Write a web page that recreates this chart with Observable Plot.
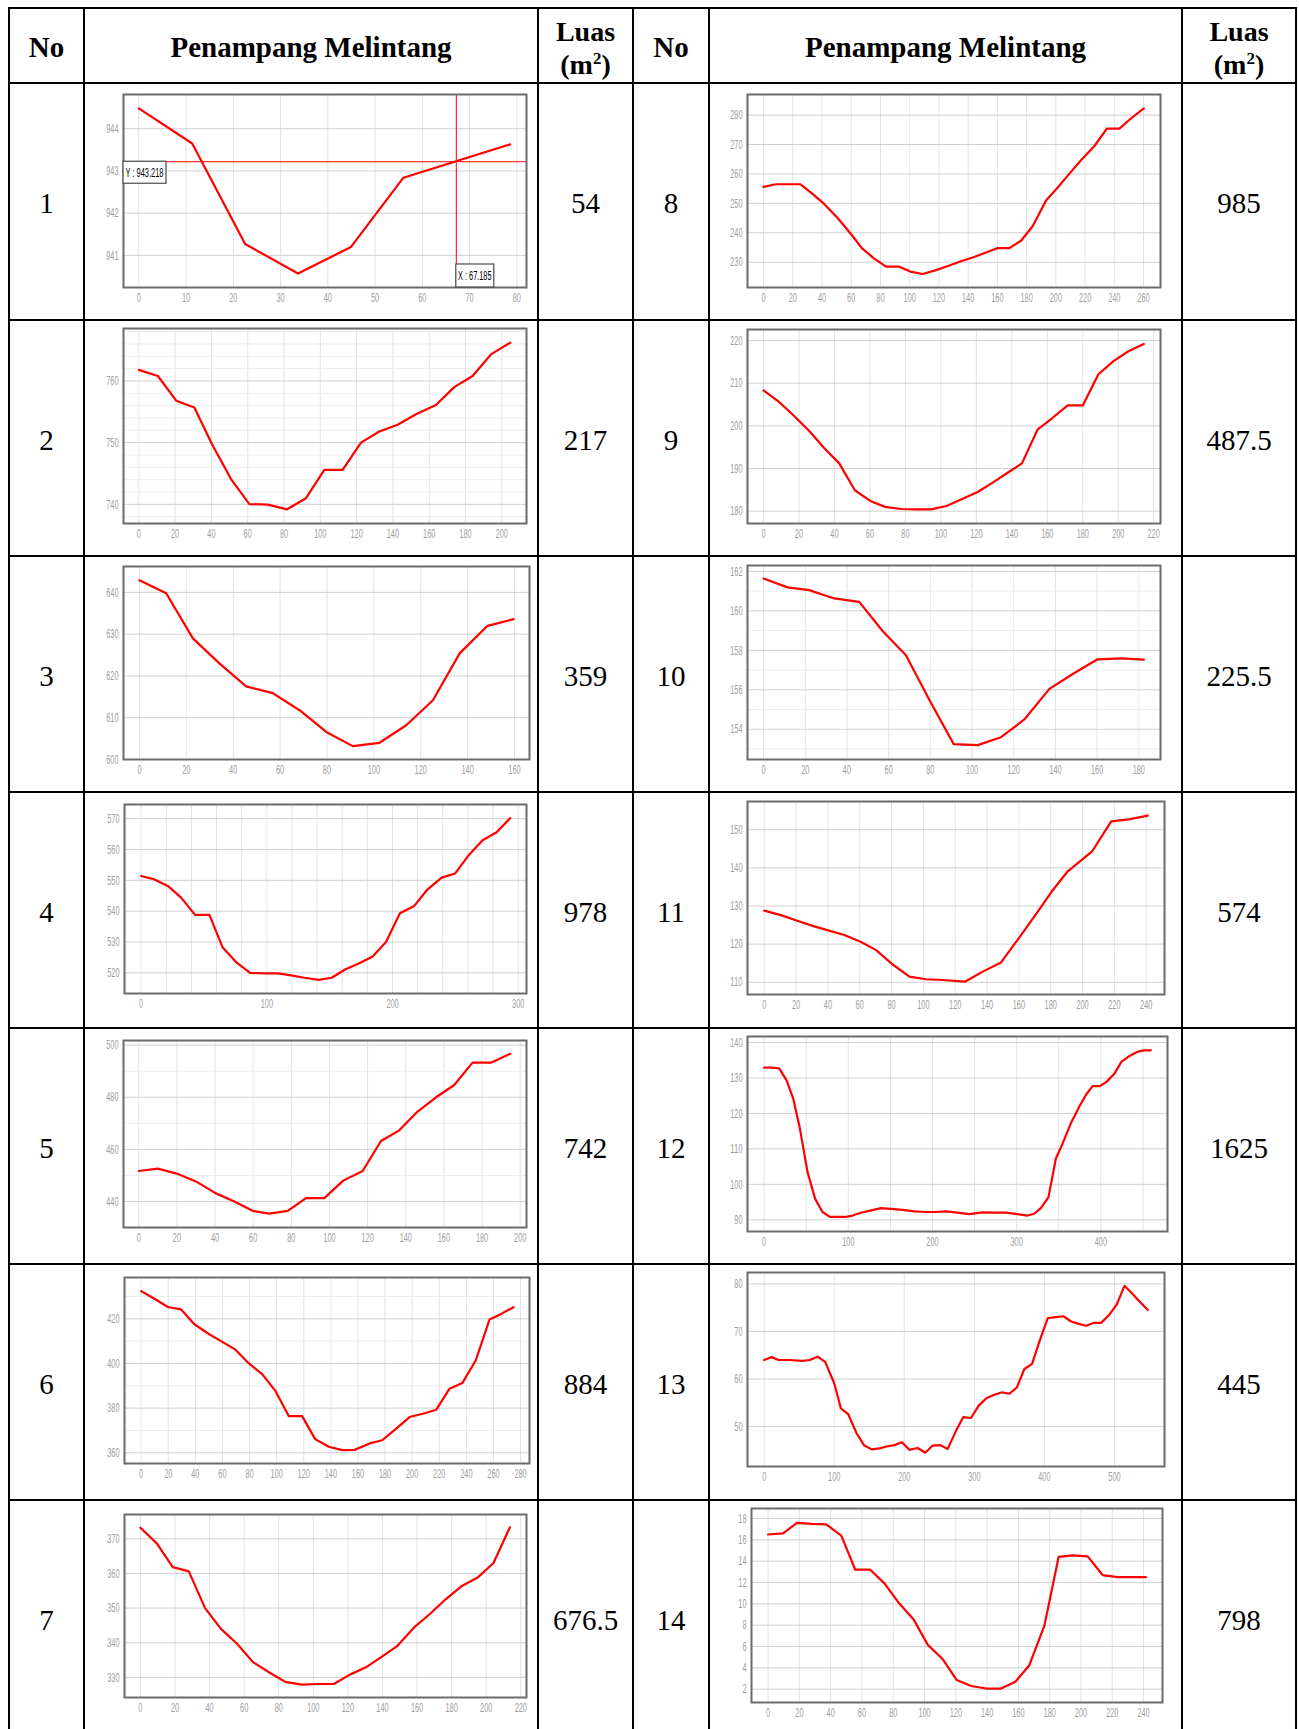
<!DOCTYPE html>
<html><head><meta charset="utf-8">
<script src="https://cdn.jsdelivr.net/npm/d3@7"></script>
<script src="https://cdn.jsdelivr.net/npm/@observablehq/plot@0.6"></script>
<style>
html,body{margin:0;padding:0;background:#fff;}
#page{position:relative;width:1299px;height:1729px;overflow:hidden;background:#fff;}
.hl{position:absolute;height:2px;background:#000;}
.vl{position:absolute;width:2px;background:#000;}
.cell{position:absolute;display:flex;align-items:center;justify-content:center;font-family:"Liberation Serif","Times New Roman",serif;font-size:29px;color:#000;text-align:center;box-sizing:border-box;padding-top:4px;}
.hd{font-weight:bold;}
.luas{line-height:33px;font-size:28px;}
.luas sup{font-size:17px;vertical-align:super;line-height:0;}
.chart{position:absolute;}
.chart svg{overflow:visible;}
</style></head><body><div id="page"></div>
<script>
// ---------- data ----------
const nomorKiri = [1, 2, 3, 4, 5, 6, 7];
const nomorKanan = [8, 9, 10, 11, 12, 13, 14];
const luasKiri = [54, 217, 359, 978, 742, 884, 676.5];
const luasKanan = [985, 487.5, 225.5, 574, 1625, 445, 798];

const jarak1 = [0, 11.3, 22.5, 33.7, 44.9, 56.0, 78.6];
const elev1 = [944.48, 943.65, 941.27, 940.57, 941.2, 942.84, 943.63];
const crossX1 = 67.185, crossY1 = 943.218;

const jarak2 = [0, 10.5, 20.6, 30.6, 40.4, 50.8, 60.9, 71.0, 81.7, 92.1, 102.2, 112.3, 122.4, 132.5, 142.6, 152.7, 163.7, 173.8, 183.9, 194.0, 204.6];
const elev2 = [761.8, 760.8, 756.8, 755.7, 749.7, 744.1, 740.05, 739.95, 739.2, 741.0, 745.6, 745.6, 750.0, 751.8, 752.9, 754.6, 756.1, 759.0, 760.8, 764.3, 766.2];

const jarak3 = [0, 11.4, 22.8, 34.1, 45.5, 56.9, 68.3, 79.7, 91.0, 102.4, 113.8, 125.2, 136.6, 148.5, 159.6];
const elev3 = [642.9, 639.8, 629.0, 623.0, 617.5, 615.9, 611.8, 606.6, 603.2, 604.0, 608.2, 614.2, 625.4, 632.0, 633.6];

const jarak4 = [0, 10.6, 21.2, 31.8, 42.9, 54.3, 64.9, 75.5, 86.7, 98.1, 108.7, 119.3, 129.9, 141.3, 151.6, 162.2, 173.6, 184.2, 194.8, 205.9, 217.3, 227.9, 239.1, 249.7, 261.1, 271.7, 282.8, 293.7];
const elev4 = [551.4, 550.3, 548.2, 544.4, 538.8, 538.8, 528.2, 523.5, 520.0, 519.8, 519.8, 519.2, 518.4, 517.7, 518.4, 521.1, 523.1, 525.3, 530.0, 539.3, 541.7, 547.1, 550.9, 552.2, 558.4, 563.0, 565.6, 570.2];

const jarak5 = [0, 10, 19.9, 30, 40.2, 50.1, 59.7, 68.5, 78.1, 87.7, 97.3, 107.2, 117.4, 127, 136.6, 146.2, 155.9, 165.4, 175.0, 184.6, 194.8];
const elev5 = [451.7, 452.6, 450.7, 447.7, 443.2, 440.0, 436.4, 435.3, 436.4, 441.3, 441.3, 448.0, 451.7, 463.2, 467.3, 474.5, 480.0, 484.7, 493.3, 493.3, 496.7];

const jarak6 = [0, 9.8, 19.7, 29.5, 39.4, 49.7, 59.5, 69.4, 79.5, 89.3, 99.2, 109.0, 118.8, 128.4, 138.5, 148.4, 157.5, 168.6, 177.9, 188.2, 198.1, 207.9, 217.8, 227.6, 237.0, 246.8, 257.1, 265.7, 274.8];
const elev6 = [432.4, 429.0, 425.3, 424.2, 417.5, 413.3, 409.8, 406.3, 400.0, 395.2, 387.6, 376.4, 376.4, 366.1, 362.7, 361.2, 361.3, 364.2, 365.6, 370.8, 376.0, 377.5, 379.3, 388.7, 391.2, 401.2, 419.7, 422.2, 425.2];

const jarak7 = [0, 9.6, 18.7, 28, 37.4, 46.6, 55.9, 65.1, 74.6, 83.8, 93.3, 102.5, 111.8, 121.2, 130.4, 139.7, 148.7, 158.4, 167.4, 176.7, 185.4, 195.0, 204.2, 213.7];
const elev7 = [373.2, 368.6, 361.8, 360.6, 350.0, 344.0, 339.7, 334.4, 331.4, 328.7, 327.9, 328.1, 328.1, 330.8, 332.9, 336.0, 339.1, 344.5, 348.3, 352.6, 356.2, 358.8, 363.0, 373.3];

const jarak8 = [0, 8.4, 16.9, 25.1, 33.1, 41.5, 50.7, 59.8, 67.3, 75.3, 83.8, 92.4, 100.4, 108.9, 118, 126.7, 135.1, 143.1, 151.8, 160.2, 168.2, 176.2, 184.2, 193.3, 201.3, 209.3, 217.8, 226.4, 234.9, 243.5, 252, 260.2];
const elev8 = [255.6, 256.5, 256.5, 256.5, 253.4, 249.8, 245.0, 239.6, 234.8, 231.4, 228.5, 228.5, 226.8, 226.0, 227.3, 228.8, 230.3, 231.6, 233.2, 234.8, 234.8, 237.3, 242.3, 251.0, 255.4, 260.1, 265.0, 269.5, 275.4, 275.4, 279.1, 282.3];

const jarak9 = [0, 8.8, 17.3, 25.8, 34.2, 42.7, 51.5, 60.2, 68.6, 77.5, 85.9, 94.4, 103.2, 111.7, 120.7, 129.2, 137.6, 145.7, 154.6, 163.0, 171.5, 180.0, 188.8, 197.3, 205.7, 214.4];
const elev9 = [208.3, 205.6, 202.3, 198.8, 194.8, 191.2, 184.9, 182.4, 181.0, 180.5, 180.4, 180.4, 181.2, 182.8, 184.5, 186.7, 189.0, 191.2, 199.2, 201.9, 204.8, 204.8, 212.1, 215.2, 217.5, 219.2];

const jarak10 = [0, 11.5, 21.9, 33.9, 45.9, 57.1, 68.3, 79.5, 91.2, 102.7, 113.9, 125.1, 137.1, 148.3, 160.0, 171.5, 182.4];
const elev10 = [161.64, 161.19, 161.05, 160.63, 160.46, 158.98, 157.75, 155.5, 153.25, 153.2, 153.6, 154.5, 156.05, 156.8, 157.54, 157.59, 157.53];

const jarak11 = [0, 10.5, 20.3, 30.4, 40.2, 50.3, 60.2, 70.2, 80.3, 91.2, 101.7, 112.1, 126.4, 137.3, 148.8, 159.3, 169.8, 180.3, 190.7, 206.0, 218.0, 229.1, 241.0];
const elev11 = [128.8, 127.6, 126.2, 124.8, 123.6, 122.4, 120.7, 118.5, 114.8, 111.5, 110.8, 110.6, 110.2, 112.8, 115.2, 121.2, 127.3, 133.6, 139.1, 144.3, 152.2, 152.7, 153.7];

const jarak12 = [0, 9.1, 17.8, 26.5, 34.5, 42.4, 51.5, 60.6, 69.3, 78, 87.1, 96.2, 105, 114.9, 124.8, 138.6, 150.5, 164.4, 178.2, 192.1, 202, 215.8, 229.7, 243.6, 259.4, 273.3, 287.1, 301, 312.9, 320.8, 328.7, 337.8, 346.5, 354.5, 364.4, 374.3, 382.2, 390.1, 398.8, 406.7, 415.8, 424.6, 434.5, 443.6, 451.5, 459.4];
const elev12 = [132.9, 132.9, 132.7, 129.4, 124.2, 115.8, 103.5, 95.9, 92.2, 90.8, 90.8, 90.8, 91.2, 92.0, 92.5, 93.3, 93.1, 92.8, 92.4, 92.2, 92.2, 92.4, 92.0, 91.6, 92.1, 92.0, 92.0, 91.6, 91.2, 91.7, 93.3, 96.4, 107.2, 111.5, 117.2, 121.9, 125.2, 127.7, 127.7, 128.9, 131.1, 134.6, 136.3, 137.4, 137.8, 137.8];

const jarak13 = [0, 10.5, 20.5, 35.7, 54.8, 65.2, 76.2, 87.1, 100, 109.5, 120, 131.9, 142.9, 153.8, 164.3, 174.8, 185.7, 196.7, 207.1, 219, 230, 240.5, 251.4, 261.9, 273.8, 284.3, 295.2, 306.2, 317.6, 328.6, 339.5, 350, 360.5, 371.4, 382.4, 392.9, 404.8, 415.7, 427.1, 438.1, 449, 459.5, 470, 481, 491.9, 503.3, 514.3, 525.2, 537.1, 547.6];
const elev13 = [64.0, 64.6, 64.0, 64.0, 63.8, 64.0, 64.7, 63.6, 59.1, 53.8, 52.6, 48.6, 46.0, 45.2, 45.4, 45.8, 46.1, 46.7, 45.1, 45.5, 44.5, 46.0, 46.1, 45.3, 49.1, 52.0, 51.8, 54.4, 56.0, 56.7, 57.2, 56.9, 58.2, 62.1, 63.2, 67.9, 72.8, 73.0, 73.2, 72.1, 71.6, 71.2, 71.8, 71.8, 73.4, 75.7, 79.6, 78.0, 76.1, 74.5];

const jarak14 = [0, 9.6, 18.5, 27.7, 37.2, 46.8, 55.7, 65.3, 74.5, 84, 93.2, 102.1, 111.7, 120.6, 129.8, 139.4, 148.9, 158.1, 167, 176.6, 185.7, 194.7, 204.3, 213.8, 223.4, 231.9, 241.5];
const elev14 = [16.5, 16.6, 17.6, 17.5, 17.45, 16.4, 13.2, 13.2, 11.9, 10.0, 8.5, 6.15, 4.8, 2.85, 2.3, 2.06, 2.06, 2.7, 4.25, 7.95, 14.4, 14.55, 14.45, 12.7, 12.5, 12.5, 12.5];

// tick labels
const tx1 = [0, 10, 20, 30, 40, 50, 60, 70, 80];
const ty1 = [941, 942, 943, 944];
const tx2 = [0, 20, 40, 60, 80, 100, 120, 140, 160, 180, 200];
const ty2 = [740, 750, 760];
const tyMinor2 = [738, 742, 744, 746, 748, 752, 754, 756, 758, 762, 764, 766, 768];
const tx3 = [0, 20, 40, 60, 80, 100, 120, 140, 160];
const ty3 = [600, 610, 620, 630, 640];
const tx4 = [0, 100, 200, 300];
const gx4 = [0, 20, 40, 60, 80, 100, 120, 140, 160, 180, 200, 220, 240, 260, 280, 300];
const ty4 = [520, 530, 540, 550, 560, 570];
const tx5 = [0, 20, 40, 60, 80, 100, 120, 140, 160, 180, 200];
const ty5 = [440, 460, 480, 500];
const tyMinor5 = [450, 470, 490];
const tx6 = [0, 20, 40, 60, 80, 100, 120, 140, 160, 180, 200, 220, 240, 260, 280];
const ty6 = [360, 380, 400, 420];
const tyMinor6 = [370, 390, 410, 430];
const tx7 = [0, 20, 40, 60, 80, 100, 120, 140, 160, 180, 200, 220];
const ty7 = [330, 340, 350, 360, 370];
const tx8 = [0, 20, 40, 60, 80, 100, 120, 140, 160, 180, 200, 220, 240, 260];
const ty8 = [230, 240, 250, 260, 270, 280];
const tx9 = [0, 20, 40, 60, 80, 100, 120, 140, 160, 180, 200, 220];
const ty9 = [180, 190, 200, 210, 220];
const tx10 = [0, 20, 40, 60, 80, 100, 120, 140, 160, 180];
const ty10 = [154, 156, 158, 160, 162];
const tyMinor10 = [153, 155, 157, 159, 161];
const tx11 = [0, 20, 40, 60, 80, 100, 120, 140, 160, 180, 200, 220, 240];
const ty11 = [110, 120, 130, 140, 150];
const tx12 = [0, 100, 200, 300, 400];
const gx12 = [0, 50, 100, 150, 200, 250, 300, 350, 400, 450];
const ty12 = [90, 100, 110, 120, 130, 140];
const tx13 = [0, 100, 200, 300, 400, 500];
const ty13 = [50, 60, 70, 80];
const tx14 = [0, 20, 40, 60, 80, 100, 120, 140, 160, 180, 200, 220, 240];
const ty14 = [2, 4, 6, 8, 10, 12, 14, 16, 18];

// ---------- chart settings ----------
const charts = [
  {x: jarak1, y: elev1, xTicks: tx1, yTicks: ty1, xDomain: [-3.24, 82.04], yDomain: [940.24, 944.81], box: [123, 94, 526, 287], cross: [crossX1, crossY1]},
  {x: jarak2, y: elev2, xTicks: tx2, yTicks: ty2, yMinor: tyMinor2, xDomain: [-8.44, 213.6], yDomain: [736.9, 768.5], box: [123, 328, 526, 523]},
  {x: jarak3, y: elev3, xTicks: tx3, yTicks: ty3, xDomain: [-6.8, 166.4], yDomain: [600, 646.2], box: [123, 566, 529, 759]},
  {x: jarak4, y: elev4, xTicks: tx4, xGrid: gx4, yTicks: ty4, xDomain: [-13.25, 306.6], yDomain: [513.3, 574.6], box: [124, 804, 526, 993]},
  {x: jarak5, y: elev5, xTicks: tx5, yTicks: ty5, yMinor: tyMinor5, xDomain: [-8.0, 203.3], yDomain: [430.0, 501.8], box: [123, 1040, 526, 1227]},
  {x: jarak6, y: elev6, xTicks: tx6, yTicks: ty6, yMinor: tyMinor6, xDomain: [-12.3, 286.6], yDomain: [355.2, 438.5], box: [124, 1277, 529, 1463]},
  {x: jarak7, y: elev7, xTicks: tx7, yTicks: ty7, xDomain: [-9.2, 223.3], yDomain: [324.2, 377.0], box: [124, 1514, 526, 1697]},
  {x: jarak8, y: elev8, xTicks: tx8, yTicks: ty8, xDomain: [-10.96, 271.6], yDomain: [221.4, 287.0], box: [747, 94, 1160, 287]},
  {x: jarak9, y: elev9, xTicks: tx9, yTicks: ty9, xDomain: [-9.0, 223.8], yDomain: [177.1, 222.6], box: [747, 329, 1160, 523]},
  {x: jarak10, y: elev10, xTicks: tx10, yTicks: ty10, yMinor: tyMinor10, xDomain: [-7.7, 190.4], yDomain: [152.47, 162.3], box: [747, 565, 1160, 759]},
  {x: jarak11, y: elev11, xTicks: tx11, yTicks: ty11, xDomain: [-10.5, 251.5], yDomain: [106.8, 157.4], box: [747, 801, 1164, 994]},
  {x: jarak12, y: elev12, xTicks: tx12, xGrid: gx12, yTicks: ty12, xDomain: [-19.8, 479.2], yDomain: [86.7, 141.7], box: [747, 1036, 1167, 1231]},
  {x: jarak13, y: elev13, xTicks: tx13, yTicks: ty13, xDomain: [-23.8, 571.4], yDomain: [41.6, 82.4], box: [747, 1272, 1164, 1466]},
  {x: jarak14, y: elev14, xTicks: tx14, yTicks: ty14, xDomain: [-10.6, 252.1], yDomain: [0.75, 18.94], box: [751, 1508, 1162, 1702]}
];

// ---------- table ----------
const page = document.getElementById("page");
const colX = [9, 84, 538, 633, 709, 1182, 1296];
const rowY = [8, 83, 320, 556, 792, 1028, 1264, 1500, 1736];

function cell(x0, x1, y0, y1, html, cls) {
  const d = document.createElement("div");
  d.className = "cell " + (cls || "");
  d.style.left = x0 + "px"; d.style.width = (x1 - x0) + "px";
  d.style.top = y0 + "px"; d.style.height = (y1 - y0) + "px";
  d.innerHTML = html;
  page.appendChild(d);
}
const headers = ["No", "Penampang Melintang", "<div class='luas'>Luas<br>(m<sup>2</sup>)</div>", "No", "Penampang Melintang", "<div class='luas'>Luas<br>(m<sup>2</sup>)</div>"];
headers.forEach((h, i) => cell(colX[i], colX[i + 1], rowY[0], rowY[1], h, "hd"));
for (let r = 0; r < 7; r++) {
  const y0 = rowY[r + 1], y1 = rowY[r + 2];
  cell(colX[0], colX[1], y0, y1, String(nomorKiri[r]));
  cell(colX[2], colX[3], y0, y1, String(luasKiri[r]));
  cell(colX[3], colX[4], y0, y1, String(nomorKanan[r]));
  cell(colX[5], colX[6], y0, y1, String(luasKanan[r]));
}
rowY.forEach(y => {
  const d = document.createElement("div"); d.className = "hl";
  d.style.left = (colX[0] - 1) + "px"; d.style.width = (colX[6] - colX[0] + 2) + "px";
  d.style.top = (y - 1) + "px"; page.appendChild(d);
});
colX.forEach(x => {
  const d = document.createElement("div"); d.className = "vl";
  d.style.left = (x - 1) + "px"; d.style.top = (rowY[0] - 1) + "px";
  d.style.height = (rowY[8] - rowY[0] + 2) + "px"; page.appendChild(d);
});

// ---------- charts ----------
const DIGIT_W = 4.1;
function squeeze(textEl, perChar) {
  const n = textEl.textContent.length;
  textEl.setAttribute("textLength", (n * perChar).toFixed(1));
  textEl.setAttribute("lengthAdjust", "spacingAndGlyphs");
}

charts.forEach(cfg => {
  const [L, T, R, B] = cfg.box;
  const mL = 40, mR = 14, mT = 6, mB = 26;
  const W = R - L + mL + mR, H = B - T + mT + mB;
  const data = cfg.x.map((x, i) => ({jarak: x, elev: cfg.y[i]}));
  const marks = [
    Plot.gridX(cfg.xGrid || cfg.xTicks, {stroke: "#e2e2e2", strokeOpacity: 1, strokeWidth: 1}),
    cfg.yMinor ? Plot.gridY(cfg.yMinor, {stroke: "#ececec", strokeOpacity: 1, strokeWidth: 1}) : null,
    Plot.gridY(cfg.yTicks, {stroke: "#d0d0d0", strokeOpacity: 1, strokeWidth: 1}),
    cfg.cross ? Plot.ruleX([cfg.cross[0]], {stroke: "#ff0000", strokeWidth: 1}) : null,
    cfg.cross ? Plot.ruleY([cfg.cross[1]], {stroke: "#ff0000", strokeWidth: 1}) : null,
    Plot.line(data, {x: "jarak", y: "elev", stroke: "#ff0000", strokeWidth: 2.2}),
    Plot.frame({stroke: "#6b6b6b", strokeWidth: 2}),
    Plot.axisX(cfg.xTicks, {tickSize: 0, tickPadding: 5, color: "#9e9e9e", label: null}),
    Plot.axisY(cfg.yTicks, {tickSize: 0, tickPadding: 5, color: "#9e9e9e", label: null})
  ];
  const plot = Plot.plot({
    width: W, height: H,
    marginLeft: mL, marginRight: mR, marginTop: mT, marginBottom: mB,
    x: {domain: cfg.xDomain, label: null},
    y: {domain: cfg.yDomain, label: null},
    style: {fontFamily: "'Liberation Sans', Arial, sans-serif", fontSize: "13px", background: "transparent", color: "#9e9e9e", overflow: "visible"},
    marks
  });
  plot.querySelectorAll('g[aria-label$="tick label"] text').forEach(t => squeeze(t, DIGIT_W));

  if (cfg.cross) {
    const sx = plot.scale("x"), sy = plot.scale("y");
    const px = sx.apply(cfg.cross[0]), py = sy.apply(cfg.cross[1]);
    const svg = d3.select(plot);
    const g = svg.append("g").attr("font-family", "'Liberation Sans', Arial, sans-serif").attr("font-size", 12).attr("fill", "#000");
    const frameBottom = H - mB;
    g.append("rect").attr("x", mL).attr("y", py).attr("width", 43).attr("height", 22)
      .attr("fill", "#fff").attr("stroke", "#4a4a4a").attr("stroke-width", 1.2);
    const ty = g.append("text").attr("x", mL + 21.5).attr("y", py + 11).attr("dy", "0.36em")
      .attr("text-anchor", "middle").text("Y : " + cfg.cross[1]);
    squeeze(ty.node(), 3.45);
    g.append("rect").attr("x", px).attr("y", frameBottom - 23).attr("width", 38).attr("height", 23)
      .attr("fill", "#fff").attr("stroke", "#4a4a4a").attr("stroke-width", 1.2);
    const tx = g.append("text").attr("x", px + 19).attr("y", frameBottom - 11.5).attr("dy", "0.36em")
      .attr("text-anchor", "middle").text("X : " + cfg.cross[0]);
    squeeze(tx.node(), 3.35);
  }

  const wrap = document.createElement("div");
  wrap.className = "chart";
  wrap.style.left = (L - mL) + "px";
  wrap.style.top = (T - mT) + "px";
  wrap.appendChild(plot);
  page.appendChild(wrap);
});
</script>
</body></html>
